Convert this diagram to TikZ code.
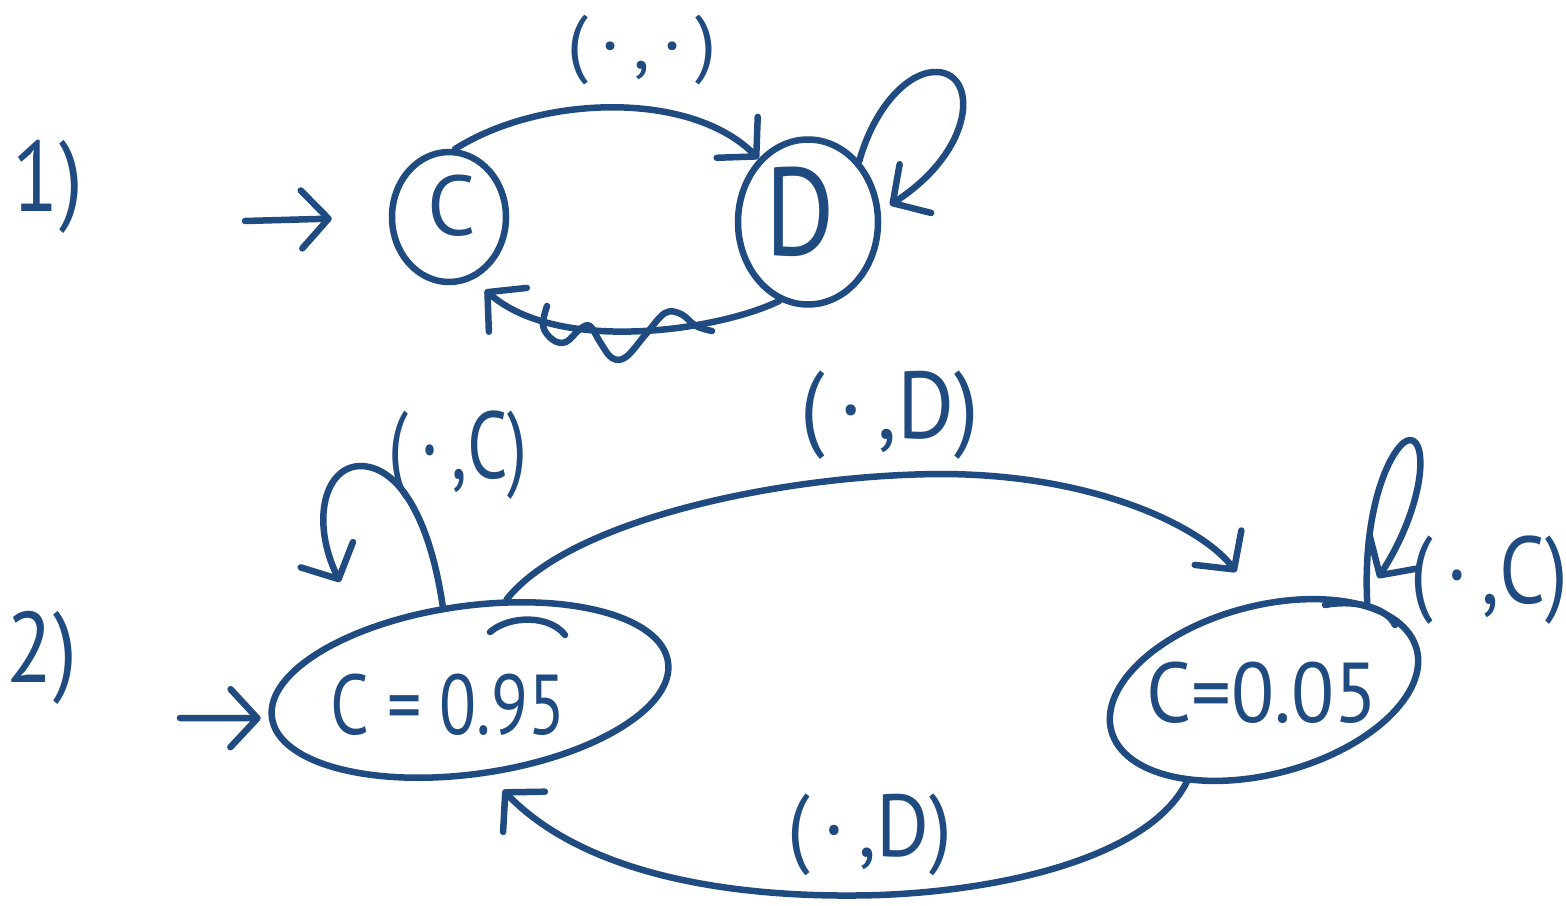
\documentclass[tikz,border=0pt]{standalone}
\usepackage{fontspec}
\setmainfont{PT Sans}
\usetikzlibrary{shapes.geometric,arrows.meta}
\definecolor{ink}{HTML}{1F4B80}
\begin{document}
\begin{tikzpicture}[x=1pt,y=-1pt,color=ink,
  line width=6.5pt, line cap=round, line join=round,
  state/.style={ellipse, draw, inner sep=0pt, line width=6.5pt},
  lbl/.style={inner sep=0pt, font=\fontsize{#1}{#1}\selectfont},
  edge/.style={-{Straight Barb[length=27pt,width=58pt,line cap=round,line join=round]}}]
\useasboundingbox (0,0) rectangle (1566,905);
% ---------- part 1 ----------
\node[lbl=100] (n1) at (48,187) {\scalebox{0.85}[1]{1)}};
\node[state, minimum width=114pt, minimum height=130pt] (C1) at (449,217) {};
\node[lbl=85] (C1t) at (452,206) {C};
\node[state, minimum width=140pt, minimum height=165pt] (D1) at (808,222) {};
\node[lbl=125] (D1t) at (800,212) {\scalebox{0.85}[1]{D}};
\node[lbl=75] (l1) at (642,50) {(\,·\,,\,·\,)};
\coordinate (s1) at (245,221);
\coordinate (c1tip) at (485,290);
\coordinate (dtip) at (890,205);
\draw[edge, shorten >=57pt] (s1) -- (C1.west);
\draw[edge] (C1.85) .. controls (540,95) and (690,90) .. (D1.128);
\draw[edge] (D1.50) .. controls (875,105) and (910,70) .. (938,72)
   .. controls (978,75) and (975,150) .. (dtip);
\draw[edge] (D1.250) .. controls (720,330) and (560,355) .. (c1tip);
\draw plot[smooth, tension=0.6] coordinates {(547,306) (543,326) (553,340) (566,342) (580,329) (590,326) (600,342) (612,358) (626,357) (646,334) (665,313) (681,314) (696,326) (712,331)};
% ---------- part 2 ----------
\node[lbl=100] (n2) at (42,658) {\scalebox{0.85}[1]{2)}};
\node[state, minimum width=400pt, minimum height=168pt, rotate=8] (L2) at (470,690) {};
\node[lbl=85] (L2t) at (448,705) {\scalebox{0.8}[1]{C = 0.95}};
\node[state, minimum width=316pt, minimum height=168pt, rotate=15] (R2) at (1264,690) {};
\node[lbl=85] (R2t) at (1262,693) {\scalebox{0.93}[1]{C=0.05}};
\node[lbl=95] (l2) at (458,455) {\scalebox{0.75}[1]{(\,·\,,C)}};
\node[lbl=95] (l3) at (890,415) {\scalebox{0.92}[1]{(\,·\,,D)}};
\node[lbl=95] (l4) at (1489,580) {\scalebox{0.85}[1]{(\,·\,,C)}};
\node[lbl=88] (l5) at (870,835) {\scalebox{0.92}[1]{(\,·\,,D)}};
\coordinate (s2) at (180,718);
\coordinate (l2tip) at (340,582);
\coordinate (r2tip) at (1236,572);
\coordinate (r2ltip) at (1378,578);
\coordinate (l2btip) at (503,790);
\draw[edge, shorten >=8pt] (s2) -- (L2.west);
\draw[edge] (L2.100) .. controls (430,520) and (400,468) .. (362,466)
   .. controls (325,465) and (310,520) .. (l2tip);
\draw[edge] (L2.60) .. controls (570,520) and (780,475) .. (940,474)
   .. controls (1100,474) and (1205,530) .. (r2tip);
\draw[edge] (R2.25) .. controls (1362,500) and (1395,440) .. (1410,440)
   .. controls (1428,440) and (1425,505) .. (r2ltip);
\draw[edge] (R2.215) .. controls (1150,855) and (1010,890) .. (880,895)
   .. controls (720,900) and (580,870) .. (l2btip);
\draw (490,632) .. controls (510,615) and (550,615) .. (565,635);
\draw (1325,605) .. controls (1350,600) and (1385,605) .. (1395,625);
\end{tikzpicture}
\end{document}
